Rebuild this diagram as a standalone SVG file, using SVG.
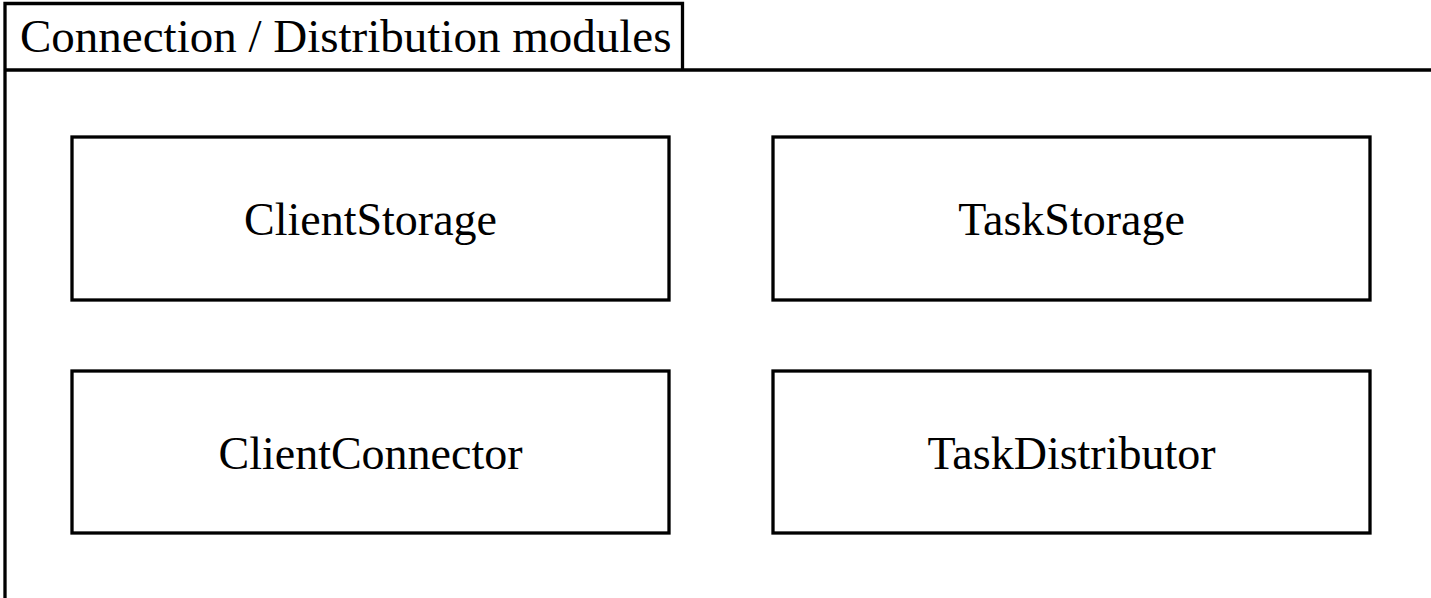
<svg xmlns="http://www.w3.org/2000/svg" width="1431" height="598" viewBox="0 0 1431 598">
<style>
.frame{fill:none;stroke:#000;stroke-width:3.3}
.box{fill:#fff;stroke:#000;stroke-width:3.3}
.lbl{font-family:"Liberation Serif","Times New Roman",serif;font-size:46px;fill:#000;text-anchor:middle}
.title{font-family:"Liberation Serif","Times New Roman",serif;font-size:47px;fill:#000}
</style>
<rect x="0" y="0" width="1431" height="598" fill="#fff"/>
<g id="package">
<path class="frame" d="M5,600 L5,3.5 L682.5,3.5 L682.5,70 M5,70 L1433,70"/>
<text class="title" x="20" y="52">Connection / Distribution modules</text>
</g>
<g id="ClientStorage">
<rect class="box" x="72" y="137" width="597" height="163"/>
<text class="lbl" x="370.5" y="235">ClientStorage</text>
</g>
<g id="TaskStorage">
<rect class="box" x="773" y="137" width="597" height="163"/>
<text class="lbl" x="1071.5" y="235">TaskStorage</text>
</g>
<g id="ClientConnector">
<rect class="box" x="72" y="371" width="597" height="162"/>
<text class="lbl" x="370.5" y="468.5">ClientConnector</text>
</g>
<g id="TaskDistributor">
<rect class="box" x="773" y="371" width="597" height="162"/>
<text class="lbl" x="1071.5" y="468.5">TaskDistributor</text>
</g>
<g id="connectors"/>
</svg>
